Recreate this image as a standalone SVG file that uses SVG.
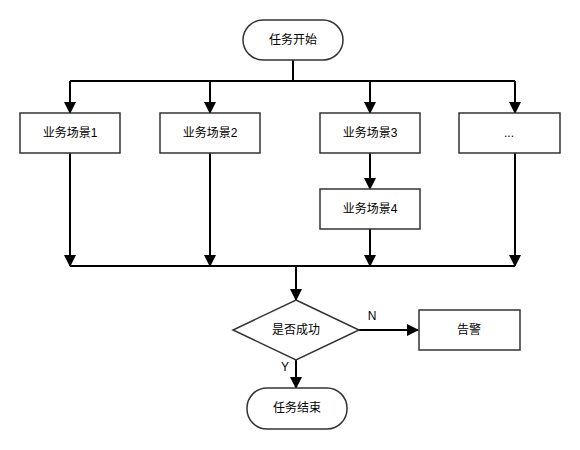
<svg xmlns="http://www.w3.org/2000/svg" width="580" height="450" viewBox="0 0 580 450">
<defs>
<marker id="ah" viewBox="0 0 12 12" refX="11" refY="6" markerWidth="12" markerHeight="12" markerUnits="userSpaceOnUse" orient="auto">
<path d="M0,0 L12,6 L0,12 Z" fill="#000"/>
</marker>
<style>
.n{fill:#fff;stroke:#333;stroke-width:1.5}
.t{font-family:"Liberation Sans","Noto Sans CJK SC",sans-serif;font-size:12px;fill:#000;text-anchor:middle;dominant-baseline:central}
.c{fill:none;stroke:#000;stroke-width:2}
</style>
</defs>
<rect width="580" height="450" fill="#fff"/>
<g id="connectors">
<path class="c" d="M293,60 V81"/>
<path class="c" d="M70,81 H515"/>
<path class="c" d="M70,81 V113" marker-end="url(#ah)"/>
<path class="c" d="M210,81 V113" marker-end="url(#ah)"/>
<path class="c" d="M370,81 V113" marker-end="url(#ah)"/>
<path class="c" d="M515,81 V113" marker-end="url(#ah)"/>
<path class="c" d="M370,153 V189" marker-end="url(#ah)"/>
<path class="c" d="M70,153 V266" marker-end="url(#ah)"/>
<path class="c" d="M210,153 V266" marker-end="url(#ah)"/>
<path class="c" d="M370,229 V266" marker-end="url(#ah)"/>
<path class="c" d="M515,153 V266" marker-end="url(#ah)"/>
<path class="c" d="M70,266 H515"/>
<path class="c" d="M296,266 V300" marker-end="url(#ah)"/>
<path class="c" d="M359,330 H418" marker-end="url(#ah)"/>
<path class="c" d="M296,359 V388" marker-end="url(#ah)"/>
<text class="t" x="372" y="316">N</text>
<text class="t" x="285" y="367">Y</text>
</g>
<g id="start"><rect class="n" x="243" y="20" width="100" height="40" rx="20"/><text class="t" x="293" y="40">任务开始</text></g>
<g id="s1"><rect class="n" x="20" y="113" width="100" height="40"/><text class="t" x="70" y="133">业务场景1</text></g>
<g id="s2"><rect class="n" x="160" y="113" width="100" height="40"/><text class="t" x="210" y="133">业务场景2</text></g>
<g id="s3"><rect class="n" x="320" y="113" width="100" height="40"/><text class="t" x="370" y="133">业务场景3</text></g>
<g id="s5"><rect class="n" x="459" y="113" width="101" height="40"/><text class="t" x="509" y="133">...</text></g>
<g id="s4"><rect class="n" x="320" y="189" width="100" height="40"/><text class="t" x="370" y="209">业务场景4</text></g>
<g id="decision"><path class="n" d="M296,300 L359,330 L296,360 L233,330 Z"/><text class="t" x="296" y="330">是否成功</text></g>
<g id="alarm"><rect class="n" x="419" y="310" width="101" height="40"/><text class="t" x="469" y="330">告警</text></g>
<g id="end"><rect class="n" x="247" y="388" width="100" height="41" rx="20"/><text class="t" x="297" y="408">任务结束</text></g>
</svg>
